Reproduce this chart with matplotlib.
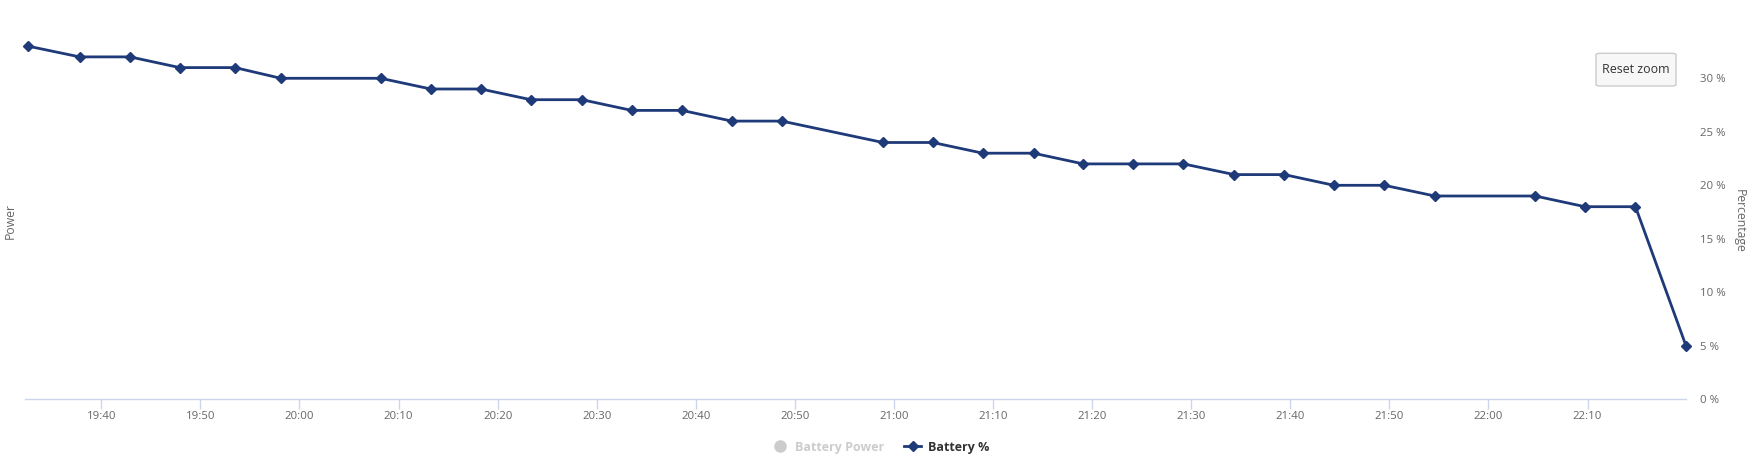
import datetime as dt
import matplotlib
matplotlib.use("Agg")
import matplotlib.pyplot as plt
import matplotlib.dates as mdates
from matplotlib.lines import Line2D
from matplotlib.patches import FancyBboxPatch

# Leituras da bateria (hora, percentagem)
horas = ["19:32:38", "19:37:49", "19:42:54", "19:47:55", "19:53:30", "19:58:07",
         "20:08:12", "20:13:15", "20:18:18", "20:23:21", "20:28:30", "20:33:32",
         "20:38:36", "20:43:38", "20:48:41", "20:58:53", "21:03:55", "21:08:58",
         "21:14:05", "21:19:06", "21:24:08", "21:29:13", "21:34:20", "21:39:23",
         "21:44:24", "21:49:29", "21:54:35", "22:04:43", "22:09:44", "22:14:50",
         "22:19:56"]
bateria = [33, 32, 32, 31, 31, 30, 30, 29, 29, 28, 28, 27, 27, 26, 26, 24, 24,
           23, 23, 22, 22, 22, 21, 21, 20, 20, 19, 19, 18, 18, 5]
y_ticks = [0, 5, 10, 15, 20, 25, 30]

dia = dt.date(2020, 1, 1)
t = [dt.datetime.combine(dia, dt.time.fromisoformat(h)) for h in horas]

cor = "#1f3a79"
cinza = "#666666"
eixo = "#ccd6eb"
plt.rcParams['font.family'] = ['Open Sans', 'DejaVu Sans']

W, H = 1759, 466
fig = plt.figure(figsize=(W / 100, H / 100), dpi=100)
esq, dir_, topo, base = 25, 1686, 43.3, 399.3
ax = fig.add_axes([esq / W, 1 - base / H, (dir_ - esq) / W, (base - topo) / H])

ax.plot(t, bateria, color=cor, lw=2, marker="D", ms=4.8, zorder=3,
        clip_on=False)

ax.set_xlim(dt.datetime.combine(dia, dt.time(19, 32, 18)),
            dt.datetime.combine(dia, dt.time(22, 19, 56)))
ax.set_ylim(0, 33.27)

ax.xaxis.set_major_locator(mdates.MinuteLocator(byminute=range(0, 60, 10)))
ax.xaxis.set_major_formatter(mdates.DateFormatter("%H:%M"))
ax.tick_params(axis="x", colors=eixo, length=7.2, width=1, pad=1.5,
               labelcolor=cinza, labelsize=8.2)

ax.yaxis.tick_right()
ax.set_yticks(y_ticks)
ax.set_yticklabels([f"{v} %" for v in y_ticks])
ax.tick_params(axis="y", length=0, pad=10, labelcolor=cinza, labelsize=8.2)
for lb in ax.get_yticklabels():
    lb.set_horizontalalignment("left")

for s in ["top", "left", "right"]:
    ax.spines[s].set_visible(False)
ax.spines["bottom"].set_color(eixo)
ax.spines["bottom"].set_linewidth(1)

# Títulos dos eixos
fig.text(10 / W, 1 - 221 / H, "Power", rotation=90, color=cinza,
         fontsize=8.8, ha="center", va="center")
fig.text(1739 / W, 1 - 221 / H, "Percentage", rotation=270, color=cinza,
         fontsize=8.8, ha="center", va="center")

# Botão "Reset zoom"
bx0, bx1, by0, by1 = 1596, 1676, 53.3, 86
botao = FancyBboxPatch((bx0 / W, 1 - by1 / H), (bx1 - bx0) / W, (by1 - by0) / H,
                       boxstyle="round,pad=0,rounding_size=0.003",
                       transform=fig.transFigure, facecolor="#f7f7f7",
                       edgecolor="#cccccc", lw=1)
fig.patches.append(botao)
fig.text((bx0 + bx1) / 2 / W, 1 - (by0 + by1) / 2 / H, "Reset zoom",
         color="#333333", fontsize=8.9, ha="center", va="center")

# Legenda
h1 = Line2D([], [], color="#cccccc", marker="o", ls="none", ms=8)
h2 = Line2D([], [], color=cor, marker="D", lw=2, ms=4.8)
leg = fig.legend([h1, h2], ["Battery Power", "Battery %"], loc="center",
                 bbox_to_anchor=(880 / W, 1 - 447 / H), ncol=2, frameon=False,
                 prop={"size": 9, "weight": "bold"}, handlelength=1.4,
                 handletextpad=0.5, columnspacing=1.6)
leg.get_texts()[0].set_color("#cccccc")
leg.get_texts()[1].set_color("#333333")

fig.savefig("out.png", dpi=100)
